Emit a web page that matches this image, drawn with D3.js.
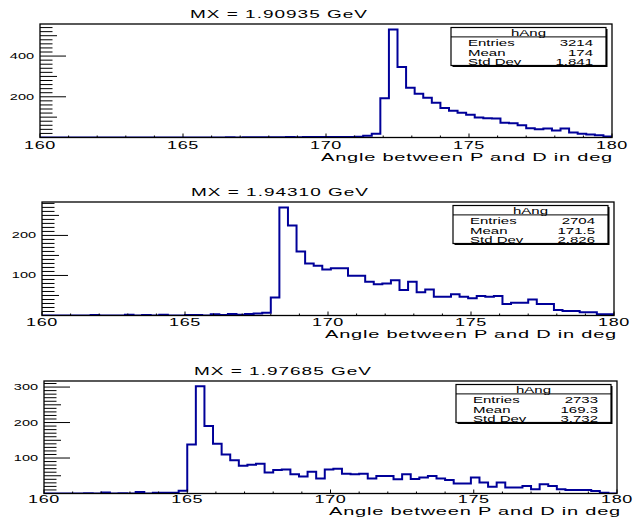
<!DOCTYPE html>
<html lang="en">
<head>
<meta charset="UTF-8">
<title>hAng</title>
<script src="https://d3js.org/d3.v7.min.js"></script>
<style>
body { margin: 0; background: #fff; }
text { font-family: "Liberation Sans", Arial, Helvetica, sans-serif; fill: #000; }
</style>
</head>
<body>
<div id="container"></div>
<script>
// binning of hAng (bins of 0.3 deg, first low edge 159.9)
const binLow = 159.9;
const binWidth = 0.3;

// counts, one array per MX
const counts1909 = [0,0,0,0,0,0,0,0,0,0, 0,0,0,0,0,0,0,0,0,0,
  0,0,1,0,1,1,1,1,1,2, 1,2,2,2,3,2,3,4,9,19,
  193,531,346,244,215,195,171,145,132,122, 112,98,94,93,73,70,60,46,40,44,
  35,44,25,19,15,11,5];
const counts1943 = [0,0,0,0,0,0,1,0,0,0, 2,0,1,0,2,0,0,1,1,0,
  3,1,4,2,4,5,7,45,270,225, 160,130,124,115,118,118,99,99,84,78,
  80,88,64,84,58,65,47,47,53,47, 43,49,47,49,29,32,32,40,29,29,
  14,11,11,8,8,3,3];
const counts1977 = [0,0,0,0,0,1,0,3,0,1, 0,4,0,2,2,2,8,138,302,190,
  140,110,94,78,81,84,59,66,68,54, 48,61,42,68,70,56,54,56,42,49,
  49,40,54,41,45,49,42,38,28,28, 45,31,19,31,17,17,21,12,26,21,
  12,10,10,10,7,2,0];

const titles = ["MX = 1.90935 GeV", "MX = 1.94310 GeV", "MX = 1.97685 GeV"];
const statEntries = ["3214", "2704", "2733"];
const statMean = ["174", "171.5", "169.3"];
const statStd = ["1.841", "2.826", "3.732"];
const xTicks = [160, 165, 170, 175, 180];
const yLabels = [[200, 400], [100, 200], [100, 200, 300]];
// y tick steps: [major, secondary, tertiary]
const yDivs = [[200, 100, 20], [100, 50, 10], [100, 50, 10]];
const xTitle = "Angle between P and D in deg";

const allCounts = [counts1909, counts1943, counts1977];

// pad frames (lab = tick label baseline offset, ttl = axis title offset)
const frames = [
  {l: 40, r: 612, t: 24, b: 137.5, tx: 279, lab: 11, ttl: 23.5, tr: 1},
  {l: 42, r: 614, t: 202, b: 315.5, tx: 280, lab: 10, ttl: 22, tr: 3},
  {l: 44, r: 617, t: 381, b: 493.5, tx: 283, lab: 9, ttl: 21, tr: 4}
];

const width = 633, height = 519;
const SQ = 0.6; // picture is squashed vertically

const svg = d3.select("#container").append("svg")
  .attr("width", width).attr("height", height);
svg.append("rect").attr("width", width).attr("height", height).attr("fill", "#fff");

function txt(g, x, y, s, size, anchor, sq, ls) {
  return g.append("text")
    .attr("transform", `translate(${x},${y}) scale(1,${sq || SQ})`)
    .attr("font-size", size)
    .attr("letter-spacing", ls || 0)
    .attr("text-anchor", anchor || "start")
    .text(s);
}

allCounts.forEach((counts, p) => {
  const f = frames[p];
  const g = svg.append("g");
  const xScale = d3.scaleLinear().domain([160, 180]).range([f.l, f.r]);
  const yMax = d3.max(counts) * 1.05;
  const yScale = d3.scaleLinear().domain([0, yMax]).range([f.b, f.t]);

  // clip
  svg.append("clipPath").attr("id", "clip" + p)
    .append("rect").attr("x", f.l).attr("y", f.t - 5)
    .attr("width", f.r - f.l).attr("height", f.b - f.t + 5);

  // histogram outline
  const pts = [[binLow, 0]];
  counts.forEach((c, i) => {
    const lo = binLow + i * binWidth;
    pts.push([lo, c], [lo + binWidth, c]);
  });
  pts.push([binLow + counts.length * binWidth, 0]);
  const line = d3.line().x(d => xScale(d[0])).y(d => yScale(d[1]));
  g.append("path").datum(pts)
    .attr("clip-path", `url(#clip${p})`)
    .attr("fill", "none")
    .attr("stroke", "#000099")
    .attr("stroke-width", 2)
    .attr("d", line);

  // y ticks
  const [maj, sec, ter] = yDivs[p];
  d3.range(ter, yMax, ter).forEach(v => {
    const len = v % maj === 0 ? 26 : (v % sec === 0 ? 17 : 12.5);
    g.append("line")
      .attr("x1", f.l).attr("x2", f.l + len)
      .attr("y1", yScale(v)).attr("y2", yScale(v))
      .attr("stroke", "#000").attr("stroke-width", 1);
  });
  yLabels[p].forEach(v => txt(g, f.l - 6, yScale(v) + 3, v, 14.5, "end"));

  // x ticks
  d3.range(160, 181, 1).forEach(v => {
    const len = v % 5 === 0 ? 4 : 2;
    g.append("line")
      .attr("x1", xScale(v)).attr("x2", xScale(v))
      .attr("y1", f.b).attr("y2", f.b - len)
      .attr("stroke", "#000").attr("stroke-width", 1);
  });
  xTicks.forEach(v => txt(g, xScale(v), f.b + f.lab, v, 18, "middle", 0.56, 0.6));
  txt(g, f.r + f.tr, f.b + f.ttl, xTitle, 20, "end", 0.55, 0.8);

  // frame
  g.append("rect")
    .attr("x", f.l).attr("y", f.t)
    .attr("width", f.r - f.l).attr("height", f.b - f.t)
    .attr("fill", "none").attr("stroke", "#000").attr("stroke-width", 1.3);

  // title
  txt(g, f.tx, f.t - 6, titles[p], 19, "middle", 0.62, 1.0);

  // stats box
  const bw = 155, bh = 38;
  const bx = f.r - 6 - bw, by = f.t + 3.5;
  g.append("rect").attr("x", bx + 1.5).attr("y", by + 1.5)
    .attr("width", bw).attr("height", bh).attr("fill", "#000");
  g.append("rect").attr("x", bx).attr("y", by)
    .attr("width", bw).attr("height", bh)
    .attr("fill", "#fff").attr("stroke", "#000").attr("stroke-width", 1.2);
  g.append("line").attr("x1", bx).attr("x2", bx + bw)
    .attr("y1", by + 9.4).attr("y2", by + 9.4)
    .attr("stroke", "#000").attr("stroke-width", 1);
  txt(g, bx + bw / 2, by + 8, "hAng", 15, "middle", 0.62);
  const rows = [["Entries", statEntries[p]], ["Mean", statMean[p]], ["Std Dev", statStd[p]]];
  rows.forEach((r, i) => {
    const yy = by + 18.4 + i * 9.6;
    txt(g, bx + 17, yy, r[0], 15, "start", 0.65);
    txt(g, bx + bw - 13, yy, r[1], 15, "end", 0.65);
  });
});
</script>
</body>
</html>
